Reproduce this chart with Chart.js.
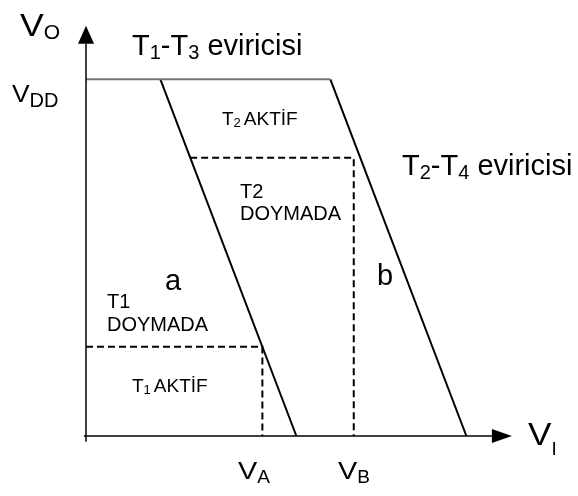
<!DOCTYPE html>
<html>
<head>
<meta charset="utf-8">
<script src="https://cdn.jsdelivr.net/npm/chart.js@4"></script>
<style>
    html, body { margin: 0; padding: 0; background: #fff; }
    #grafico { display: block; }
</style>
</head>
<body>
<canvas id="grafico" width="578" height="496"></canvas>
<script>
// valores (eixo x: 0..10, eixo y: 0..6, VDD = 5)
const VDD = 5
const cortesA = [1.75, 4.95]      // reta a: x em VO = VDD e em VO = 0
const cortesB = [5.75, 8.95]      // reta b
const VA = 4.15
const nivelA = 1.25
const VB = 6.3
const nivelB = 3.9
const inicioTracejadoB = 2.45
const fimEixoX = 9.55
const fimEixoY = 5.5

const fonte = '"Liberation Sans", Arial, sans-serif'

function reta(pontos) {
    return pontos.map(p => ({ x: p[0], y: p[1] }))
}

function serie(pontos, cor, largura, tracejado) {
    return {
        data: reta(pontos),
        showLine: true,
        borderColor: cor,
        borderWidth: largura,
        borderDash: tracejado || [],
        pointRadius: 0,
        tension: 0,
        clip: false
    }
}

// pedaço: [texto, tamanho, deslocamento vertical, espaço antes, esticar horizontal]
function rotuloSub(principal, sub, tam, esticar, tamSub, desce) {
    return [[principal, tam, 0, 0, esticar], [sub, tamSub, desce, 0, 1]]
}

const rotulos = [
    { x: 20, y: 36, partes: rotuloSub('V', 'O', 31, 1.15, 21, 3) },
    { x: 12, y: 102, partes: rotuloSub('V', 'DD', 24, 1.1, 20, 5) },
    { x: 238, y: 479, partes: rotuloSub('V', 'A', 24, 1.2, 19, 4) },
    { x: 338, y: 479, partes: rotuloSub('V', 'B', 24, 1.2, 19, 4) },
    { x: 528, y: 445, partes: rotuloSub('V', 'I', 32, 1.1, 19, 10) },
    { x: 132, y: 55, partes: [['T', 29, 0, 0], ['1', 20, 4, 0], ['-T', 29, 0, 0], ['3', 20, 4, 0], [' eviricisi', 29, 0, 0]] },
    { x: 402, y: 175, partes: [['T', 29, 0, 0], ['2', 20, 4, 0], ['-T', 29, 0, 0], ['4', 20, 4, 0], [' eviricisi', 29, 0, 0]] },
    { x: 222, y: 125, partes: [['T', 19, 0, 0], ['2', 13, 2, 0], ['AKTİF', 19, 0, 3]] },
    { x: 132, y: 392, partes: [['T', 19, 0, 0], ['1', 13, 2, 0], ['AKTİF', 19, 0, 3]] },
    { x: 107, y: 308, partes: [['T1', 20, 0, 0]] },
    { x: 107, y: 331, partes: [['DOYMADA', 20, 0, 0]] },
    { x: 240, y: 198, partes: [['T2', 20, 0, 0]] },
    { x: 240, y: 220, partes: [['DOYMADA', 20, 0, 0]] },
    { x: 165, y: 290, partes: [['a', 29, 0, 0]] },
    { x: 377, y: 285, partes: [['b', 29, 0, 0]] }
]

const desenhoExtra = {
    id: 'desenhoExtra',
    afterDraw(chart) {
        const ctx = chart.ctx
        const sx = chart.scales.x
        const sy = chart.scales.y
        ctx.save()

        // pontas das setas dos eixos
        ctx.fillStyle = '#000'
        const x0 = sx.getPixelForValue(0)
        const y0 = sy.getPixelForValue(0)
        const topo = sy.getPixelForValue(fimEixoY)
        ctx.beginPath()
        ctx.moveTo(x0, topo - 18)
        ctx.lineTo(x0 - 8, topo)
        ctx.lineTo(x0 + 8, topo)
        ctx.closePath()
        ctx.fill()

        const direita = sx.getPixelForValue(fimEixoX)
        ctx.beginPath()
        ctx.moveTo(direita + 20, y0)
        ctx.lineTo(direita, y0 - 7)
        ctx.lineTo(direita, y0 + 7)
        ctx.closePath()
        ctx.fill()

        // textos
        ctx.textBaseline = 'alphabetic'
        ctx.textAlign = 'left'
        rotulos.forEach(r => {
            let x = r.x
            r.partes.forEach(p => {
                const esticar = p[4] || 1
                ctx.font = p[1] + 'px ' + fonte
                x += p[3]
                ctx.save()
                ctx.translate(x, r.y + p[2])
                ctx.scale(esticar, 1)
                ctx.fillText(p[0], 0, 0)
                ctx.restore()
                x += ctx.measureText(p[0]).width * esticar
            })
        })
        ctx.restore()
    }
}

const ctx = document.getElementById('grafico').getContext('2d')
new Chart(ctx, {
    type: 'scatter',
    data: {
        datasets: [
            serie([[0, -0.08], [0, fimEixoY]], '#000', 1.5),
            serie([[-0.05, 0], [fimEixoX, 0]], '#000', 1.5),
            serie([[0, VDD], [cortesB[0], VDD]], '#777', 2),
            serie([[cortesA[0], VDD], [cortesA[1], 0]], '#000', 2),
            serie([[cortesB[0], VDD], [cortesB[1], 0]], '#000', 2),
            serie([[0, nivelA], [VA, nivelA], [VA, 0]], '#000', 2, [7, 4]),
            serie([[inicioTracejadoB, nivelB], [VB, nivelB], [VB, 0]], '#000', 2, [7, 4])
        ]
    },
    options: {
        responsive: false,
        animation: false,
        layout: { padding: { left: 86, right: 67, top: 8, bottom: 60 } },
        scales: {
            x: { type: 'linear', min: 0, max: 10, display: false },
            y: { type: 'linear', min: 0, max: 6, display: false }
        },
        plugins: {
            legend: { display: false },
            tooltip: { enabled: false }
        }
    },
    plugins: [desenhoExtra]
})
</script>
</body>
</html>
